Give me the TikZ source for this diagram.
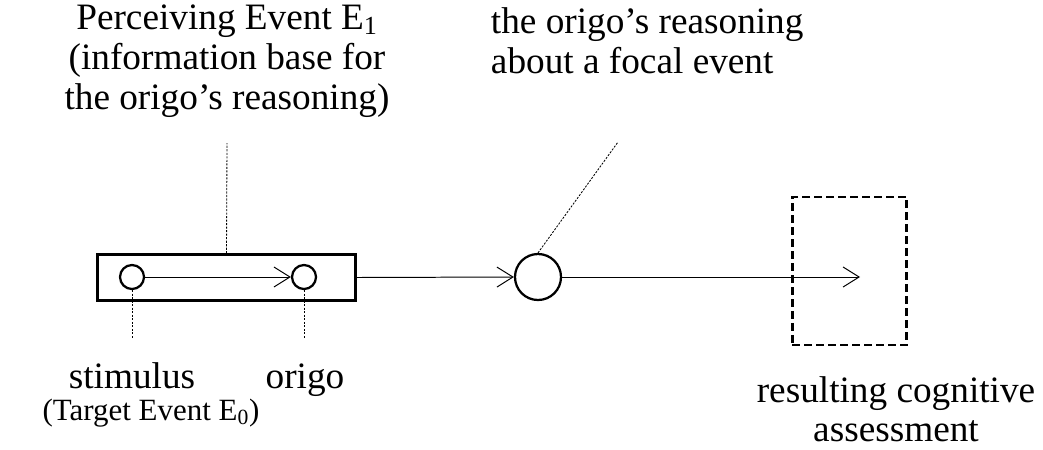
\documentclass[tikz,border=0pt]{standalone}
\usepackage{fontspec}
\setmainfont{Liberation Serif}
\usepackage{tikz}
\usetikzlibrary{positioning,arrows.meta}

\begin{document}
\begin{tikzpicture}[x=0.025cm,y=-0.025cm,
  font=\fontsize{26.5}{28.5}\selectfont,
  dot/.style={draw,circle,line width=1.6pt,inner sep=0pt,minimum size=0.6cm},
  flow/.style={line width=0.7pt,-{Straight Barb[length=4mm,width=5mm,line width=0.7pt]}},
  guide/.style={line width=0.6pt,dash pattern=on 1.5pt off 1pt}]
\useasboundingbox (0,0) rectangle (1043,449);
% perceiving event: box with stimulus and origo inside
\node[draw,line width=1.7pt,minimum width=6.45cm,minimum height=1.15cm] (perc) at (226.5,277.5) {};
\node[dot] (stim) at (132,277) {};
\node[dot] (origo) at (304,277) {};
\draw[flow] (stim) -- (origo);
% reasoning and assessment
\node[dot,minimum size=1.15cm] (reason) at (538,277) {};
\node[draw,line width=1.8pt,dash pattern=on 5.5pt off 3pt,minimum width=2.85cm,minimum height=3.7cm] (assess) at (849.5,271) {};
\coordinate (tip) at (860,277);
\draw[flow] (perc.east) -- (reason.west);
\draw[flow] (reason.east) -- (tip);
% labels
\node[align=center] (percl) at (227,61) {Perceiving Event E\textsubscript{1}\\(information base for\\the origo's reasoning)};
\node[anchor=west,align=left] (reasonl) at (486,41) {the origo's reasoning\\about a focal event};
\node[anchor=base] (stiml) at (132,388) {stimulus};
\node[anchor=base,font=\fontsize{22}{24}\selectfont] (targl) at (151,420) {(Target Event E\textsubscript{0})};
\node[anchor=base] (origol) at (305,388) {origo};
\node[align=center,inner sep=0pt,font=\fontsize{26.5}{28}\selectfont] (assessl) at (896,409) {resulting cognitive\\assessment};
% guide lines to the labels
\coordinate (percg) at (227,143);
\coordinate (reasong) at (618,142);
\coordinate (stimg) at (132,338);
\coordinate (origog) at (304,338);
\draw[guide] (perc.north) -- (percg);
\draw[guide] (reason.north) -- (reasong);
\draw[guide] (stim.south) -- (stimg);
\draw[guide] (origo.south) -- (origog);
\end{tikzpicture}
\end{document}
